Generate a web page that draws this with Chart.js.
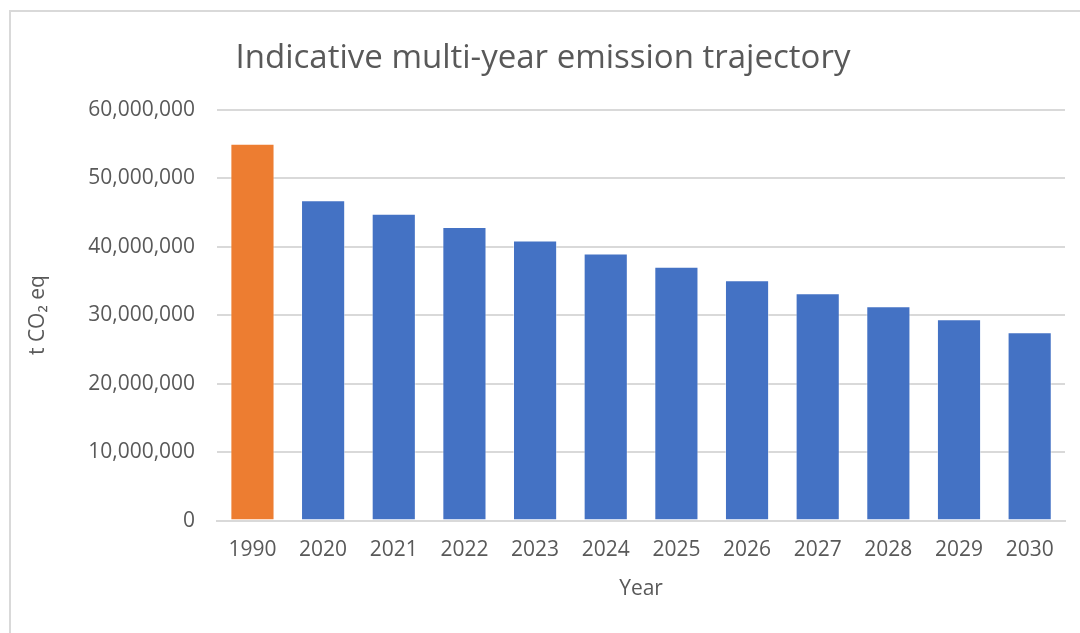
<!DOCTYPE html>
<html>
<head>
<meta charset="utf-8">
<script src="https://cdn.jsdelivr.net/npm/chart.js@4"></script>
<style>
  html, body { margin: 0; padding: 0; background: #fff; }
  #wrap { position: relative; width: 1080px; height: 633px; overflow: hidden; }
  #frame {
    position: absolute; left: 9px; top: 10px; width: 1200px; height: 700px;
    border-top: 2px solid #d9d9d9; border-left: 2px solid #d9d9d9;
  }
  #chart { position: absolute; left: 0; top: 0; }
</style>
</head>
<body>
<div id="wrap">
  <div id="frame"></div>
  <canvas id="chart" width="1080" height="633"></canvas>
</div>
<script>
/* ===========================
   DATA
=========================== */

const years = ['1990', '2020', '2021', '2022', '2023', '2024', '2025', '2026', '2027', '2028', '2029', '2030'];
const emissions = [
  55000000, 46750000, 44800000, 42850000, 40900000, 39000000,
  37050000, 35100000, 33200000, 31300000, 29400000, 27500000
];
const barColors = years.map(y => y === '1990' ? '#ED7D31' : '#4472C4');

const chartTitle = 'Indicative multi-year emission trajectory';
const yTitle = 't CO\u2082 eq';
const xTitle = 'Year';

/* ===========================
   CHART
=========================== */

const textColor = '#595959';
const gridColor = '#d9d9d9';
const fontFamily = '"Open Sans", sans-serif';

new Chart(document.getElementById('chart'), {
  type: 'bar',
  data: {
    labels: years,
    datasets: [{
      data: emissions,
      backgroundColor: barColors,
      borderColor: 'rgba(255,255,255,0.45)',
      borderWidth: 1,
      categoryPercentage: 1,
      barPercentage: 0.625
    }]
  },
  options: {
    responsive: false,
    animation: false,
    layout: { padding: { left: 21, right: 15, top: 0, bottom: 27 } },
    plugins: {
      legend: { display: false },
      tooltip: { enabled: false },
      title: {
        display: true,
        text: chartTitle,
        color: textColor,
        font: { family: fontFamily, size: 33, weight: 'normal' },
        padding: { top: 39, bottom: 31 }
      }
    },
    scales: {
      x: {
        grid: { display: false },
        border: { color: gridColor, width: 2 },
        ticks: {
          color: textColor,
          font: { family: fontFamily, size: 21 },
          maxRotation: 0,
          padding: 9
        },
        title: {
          display: true,
          text: xTitle,
          color: textColor,
          font: { family: fontFamily, size: 21 },
          padding: { top: 5 }
        }
      },
      y: {
        min: 0,
        max: 60000000,
        grid: { color: gridColor, lineWidth: 2, drawTicks: false },
        border: { display: false },
        ticks: {
          stepSize: 10000000,
          color: textColor,
          font: { family: fontFamily, size: 21 },
          padding: 22,
          callback: v => v.toLocaleString('en-US')
        },
        title: {
          display: true,
          text: yTitle,
          color: textColor,
          font: { family: fontFamily, size: 21 },
          padding: { bottom: 16 }
        }
      }
    }
  }
});
</script>
</body>
</html>
